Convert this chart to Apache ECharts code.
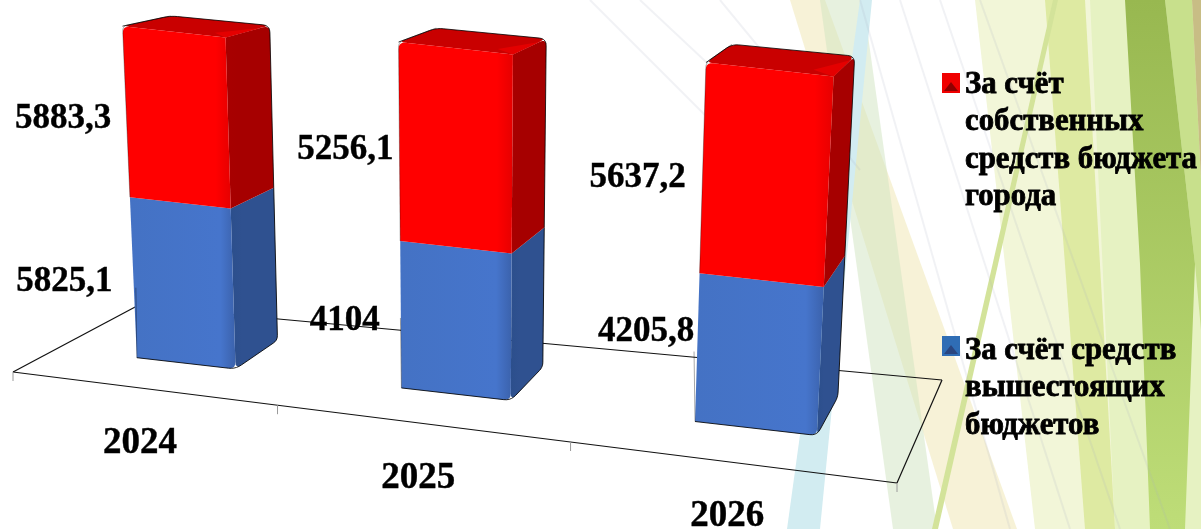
<!DOCTYPE html>
<html>
<head>
<meta charset="utf-8">
<style>
html,body{margin:0;padding:0;background:#fff;overflow:hidden}
#chart{width:1201px;height:529px;filter:blur(0.55px)}
</style>
<script src="https://cdn.jsdelivr.net/npm/echarts@6/dist/echarts.min.js"></script>
</head>
<body>
<div id="chart"></div>
<script>
// ---- data ----
const categories = ['2024', '2025', '2026'];
const higherBudgets = [5825.1, 4104, 4205.8];
const ownBudget = [5883.3, 5256.1, 5637.2];
const labelHigher = ['5825,1', '4104', '4205,8'];
const labelOwn = ['5883,3', '5256,1', '5637,2'];
const nameOwn = ['За счёт', 'собственных', 'средств бюджета', 'города'];
const nameHigher = ['За счёт средств', 'вышестоящих', 'бюджетов'];

// ---- perspective of the drawing ----
const FONT = '"Liberation Serif","Times New Roman",serif';
const F0 = [13, 372], F1 = [897, 483], B0 = [137, 306], B1 = [942, 380]; // floor corners
const WARP = -0.146;      // foreshortening along the category direction
const DEPTH = [0.355, 0.745]; // column footprint in floor depth
const BAR_RATIO = 0.385;  // column width in a category band
const BAR_NUDGE = 0.005;  // columns sit slightly right of the band centre
const LEAN_X = 464, LEAN_K = 0.000132; // verticals fan out from this x
const RISE = 1.8e-4;      // columns swell as they come up towards the viewer
// the first column is drawn nearer the back of the scene than its labels imply
const columnScale = [0.768, 1, 0.985];
const labelShift = {
  own: [[-15, 7], [-6, 8], [-17, 10]],
  higher: [[-21, 5], [-21, 6], [-3, -15]]
};
const GRID = {left: 13, top: 20, width: 884, height: 488.6};

function mix(a, b, t) { return [a[0] + (b[0] - a[0]) * t, a[1] + (b[1] - a[1]) * t]; }
function floorAt(u, d) {
  const w = u * (1 + WARP) / (1 + WARP * u);
  return mix(mix(F0, F1, w), mix(B0, B1, w), d);
}
function project(u, d, h) {
  const p = floorAt(u, d);
  const hh = h * (1 - (d - DEPTH[0]) * 0.13);
  return [LEAN_X + (p[0] - LEAN_X) * (1 + LEAN_K * hh), p[1] - hh];
}
// replaces the corners flagged in `radii` by a short curve
function rounded(points, radii) {
  const out = [], n = points.length;
  points.forEach(function (p, k) {
    const r = radii[k] || 0;
    if (!r) { out.push(p); return; }
    const a = points[(k + n - 1) % n], b = points[(k + 1) % n];
    const la = Math.hypot(a[0] - p[0], a[1] - p[1]), lb = Math.hypot(b[0] - p[0], b[1] - p[1]);
    const s = mix(p, a, Math.min(0.45, r / la)), e = mix(p, b, Math.min(0.45, r / lb));
    for (let t = 0; t <= 1.001; t += 0.2) {
      const q1 = mix(s, p, t), q2 = mix(p, e, t);
      out.push(mix(q1, q2, t));
    }
  });
  return out;
}

function columnPainter(base, values, labels, shifts, cFront, cSide, cTop) {
  return function (params, api) {
    const i = api.value(0);
    const zero = api.coord([i, 0]);
    const uc = (zero[0] - GRID.left) / GRID.width + BAR_NUDGE;
    const hu = api.size([1, 0])[0] * BAR_RATIO / GRID.width / 2;
    const heightOf = function (v) {
      const px = zero[1] - api.coord([i, v * columnScale[i]])[1];
      return px + RISE * px * px;
    };
    const h0 = heightOf(base ? base[i] : 0);
    const h1 = heightOf((base ? base[i] : 0) + values[i]);
    const P = (u, d, h) => project(uc + u * hu, d, h);
    const fl0 = P(-1, DEPTH[0], h0), fr0 = P(1, DEPTH[0], h0), br0 = P(1, DEPTH[1], h0);
    const fl1 = P(-1, DEPTH[0], h1), fr1 = P(1, DEPTH[0], h1), br1 = P(1, DEPTH[1], h1), bl1 = P(-1, DEPTH[1], h1);
    const kids = [];
    const poly = (pts, fill, extra) => kids.push({type: 'polygon', shape: {points: pts},
      style: Object.assign({fill: fill, stroke: 'none'}, extra || {}), silent: true});
    const text = [(fl0[0] + fl1[0]) / 2 + shifts[i][0], (fl0[1] + fl1[1]) / 2 + shifts[i][1]];
    kids.push({type: 'text', silent: true, style: {text: labels[i], x: text[0], y: text[1],
      align: 'right', verticalAlign: 'middle', font: 'bold 35px ' + FONT, fill: '#000',
      stroke: '#000', lineWidth: 0.4}});
    const isTop = !!cTop;
    const R = 7;
    const sidePts = isTop ? rounded([fr0, br0, br1, fr1], [0, 0, R, 0]) : rounded([fr0, br0, br1, fr1], [R, R * 0.7, 0, 0]);
    const frontPts = isTop ? rounded([fl0, fr0, fr1, fl1], [0, 0, 0, R]) : rounded([fl0, fr0, fr1, fl1], [0, R, 0, 0]);
    // side face
    poly(sidePts, new echarts.graphic.LinearGradient(0, 0, 1, 0, [
      {offset: 0, color: cSide[0]}, {offset: 0.25, color: cSide[1]}, {offset: 1, color: cSide[1]}]));
    const outline = {fill: 'none', stroke: 'rgba(0,0,0,0.85)', lineWidth: 1, lineJoin: 'round'};
    if (isTop) {
      const topPts = rounded([fl1, fr1, br1, bl1], [R, 0, R, R]);
      poly(topPts, cTop[0]);
      poly([fr1, br1, P(1, DEPTH[1] - 0.08, h1), P(0.62, DEPTH[0] + 0.08, h1)], cTop[1]);
      kids.push({type: 'polyline', silent: true, shape: {points: rounded([fl1, bl1, br1, br0], [0, R, R, 0])},
        style: {fill: 'none', stroke: 'rgba(0,0,0,0.8)', lineWidth: 1, lineJoin: 'round'}});
    }
    // front face
    poly(frontPts, new echarts.graphic.LinearGradient(0, 0, 1, 0, [
      {offset: 0, color: cFront[0]}, {offset: 0.86, color: cFront[1]}, {offset: 1, color: cFront[2]}]));
    if (!isTop) {
      kids.push({type: 'polyline', silent: true, shape: {points: rounded([fl0, fr0, br0, br1], [0, R, R * 0.7, 0])}, style: outline});
      kids.push({type: 'line', silent: true, shape: {x1: fl0[0], y1: fl0[1], x2: fl0[0] - 1, y2: fl0[1] - 70},
        style: {stroke: 'rgba(0,0,0,0.35)', lineWidth: 1}});
    } else {
      kids.push({type: 'polyline', silent: true, shape: {points: rounded([fl0, fl1, bl1], [0, R * 0.7, 0])},
        style: {fill: 'none', stroke: 'rgba(0,0,0,0.3)', lineWidth: 1}});
    }
    return {type: 'group', children: kids};
  };
}

function floorPainter(params, api) {
  const kids = [];
  const line = (a, b, c, w) => kids.push({type: 'line', silent: true,
    shape: {x1: a[0], y1: a[1], x2: b[0], y2: b[1]}, style: {stroke: c, lineWidth: w}});
  line(F0, F1, '#111', 1.2); line(F1, B1, '#111', 1.2); line(B1, B0, '#111', 1.2); line(B0, F0, '#111', 1.2);
  const n = categories.length;
  for (let k = 0; k <= n; k++) {
    const p = floorAt(k / n, 0);
    line(p, [p[0], p[1] + 9], '#9a9a9a', 1);
  }
  categories.forEach(function (c, k) {
    const p = floorAt((k + 0.5) / n, 0);
    kids.push({type: 'text', silent: true, style: {text: c, x: p[0] - 2, y: p[1] + 55,
      align: 'center', verticalAlign: 'middle', font: 'bold 37px ' + FONT, fill: '#000',
      stroke: '#000', lineWidth: 0.4}});
  });
  return {type: 'group', children: kids};
}

// ---- decorative slide background ----
function band(pts, fill, op) {
  return {type: 'polygon', silent: true, z: 0, shape: {points: pts}, style: {fill: fill, opacity: op === undefined ? 1 : op}};
}
const v = (a, b) => new echarts.graphic.LinearGradient(0, 0, 0, 1, [{offset: 0, color: a}, {offset: 1, color: b}]);
const background = [
  band([[975, 0], [1201, 0], [1201, 529], [1035, 529]], '#F2F6D8'),
  band([[790, 0], [825, 0], [1017, 529], [953, 529]], '#F3ECC6', 0.7),
  band([[820, 0], [863, 0], [937, 529], [893, 529]], '#CFE3BF', 0.5),
  band([[860, 0], [872, 0], [820, 529], [787, 529]], '#D2ECF1'),
  band([[1090, 0], [1201, 0], [1201, 529], [1115, 529]], '#E6F2C2'),
  band([[1045, 0], [1085, 0], [1115, 529], [1085, 529]], '#DEEAA2'),
  band([[1165, 0], [1192, 0], [1201, 180], [1201, 330], [1195, 264]], '#C8E08C'),
  band([[1125, 0], [1165, 0], [1195, 264], [1185, 529], [1150, 529], [1140, 264]], v('#98B850', '#BEDD78')),
  band([[1192, 0], [1201, 0], [1201, 180]], '#C8BD85'),
  band([[1053, 0], [1058, 0], [938, 529], [932, 529]], '#D3E39A')
];
[[590, 800, 210], [640, 800, 150], [720, 860, 170], [860, 1010, 529], [900, 1070, 529], [940, 1120, 529], [980, 1170, 529]].forEach(function (l) {
  background.push({type: 'line', silent: true, z: 0, shape: {x1: l[0], y1: 0, x2: l[1], y2: l[2]},
    style: {stroke: 'rgba(170,175,190,0.16)', lineWidth: 2}});
});
function legendEntry(lines, x, y, pitch, markerDy, c1, c2) {
  const my = y + markerDy;
  const out = [
    {type: 'rect', silent: true, z: 5, shape: {x: x, y: my, width: 18, height: 20}, style: {fill: c1}},
    {type: 'polygon', silent: true, z: 6, shape: {points: [[x + 2, my + 18], [x + 9, my + 9], [x + 16, my + 18]]}, style: {fill: c2}}
  ];
  lines.forEach(function (t, k) {
    out.push({type: 'text', silent: true, z: 6, style: {text: t, x: x + 23, y: y + k * pitch,
      align: 'left', verticalAlign: 'middle', font: 'bold 30.8px ' + FONT, fill: '#000',
      stroke: '#000', lineWidth: 0.8}});
  });
  return out;
}
const legendGraphics = legendEntry(nameOwn, 942, 85, 37.3, -12, '#F00000', '#8E0000')
  .concat(legendEntry(nameHigher, 942, 351, 37.5, -15, '#2F6DB5', '#2A4680'));

const chart = echarts.init(document.getElementById('chart'), null, {renderer: 'canvas'});
const rows = categories.map((c, i) => [i]);
chart.setOption({
  animation: false,
  backgroundColor: '#fff',
  grid: GRID,
  xAxis: {type: 'category', data: categories, show: false},
  yAxis: {type: 'value', min: 0, max: 14000, show: false},
  tooltip: {show: false},
  graphic: background.concat(legendGraphics),
  series: [
    {type: 'custom', name: 'floor', z: 1, data: [[0]], renderItem: floorPainter, encode: {x: 0}, clip: false},
    {type: 'custom', name: nameHigher.join(' '), z: 2, data: rows, encode: {x: 0}, clip: false,
      renderItem: columnPainter(null, higherBudgets, labelHigher, labelShift.higher,
        ['#4472C4', '#4675CC', '#3B62AC'], ['#2C4F8C', '#2F5190'], null)},
    {type: 'custom', name: nameOwn.join(' '), z: 3, data: rows, encode: {x: 0}, clip: false,
      renderItem: columnPainter(higherBudgets, ownBudget, labelOwn, labelShift.own,
        ['#FF0000', '#FF0000', '#E60000'], ['#A80000', '#A60000'], ['#C90000', '#E40000'])}
  ]
});
</script>
</body>
</html>
